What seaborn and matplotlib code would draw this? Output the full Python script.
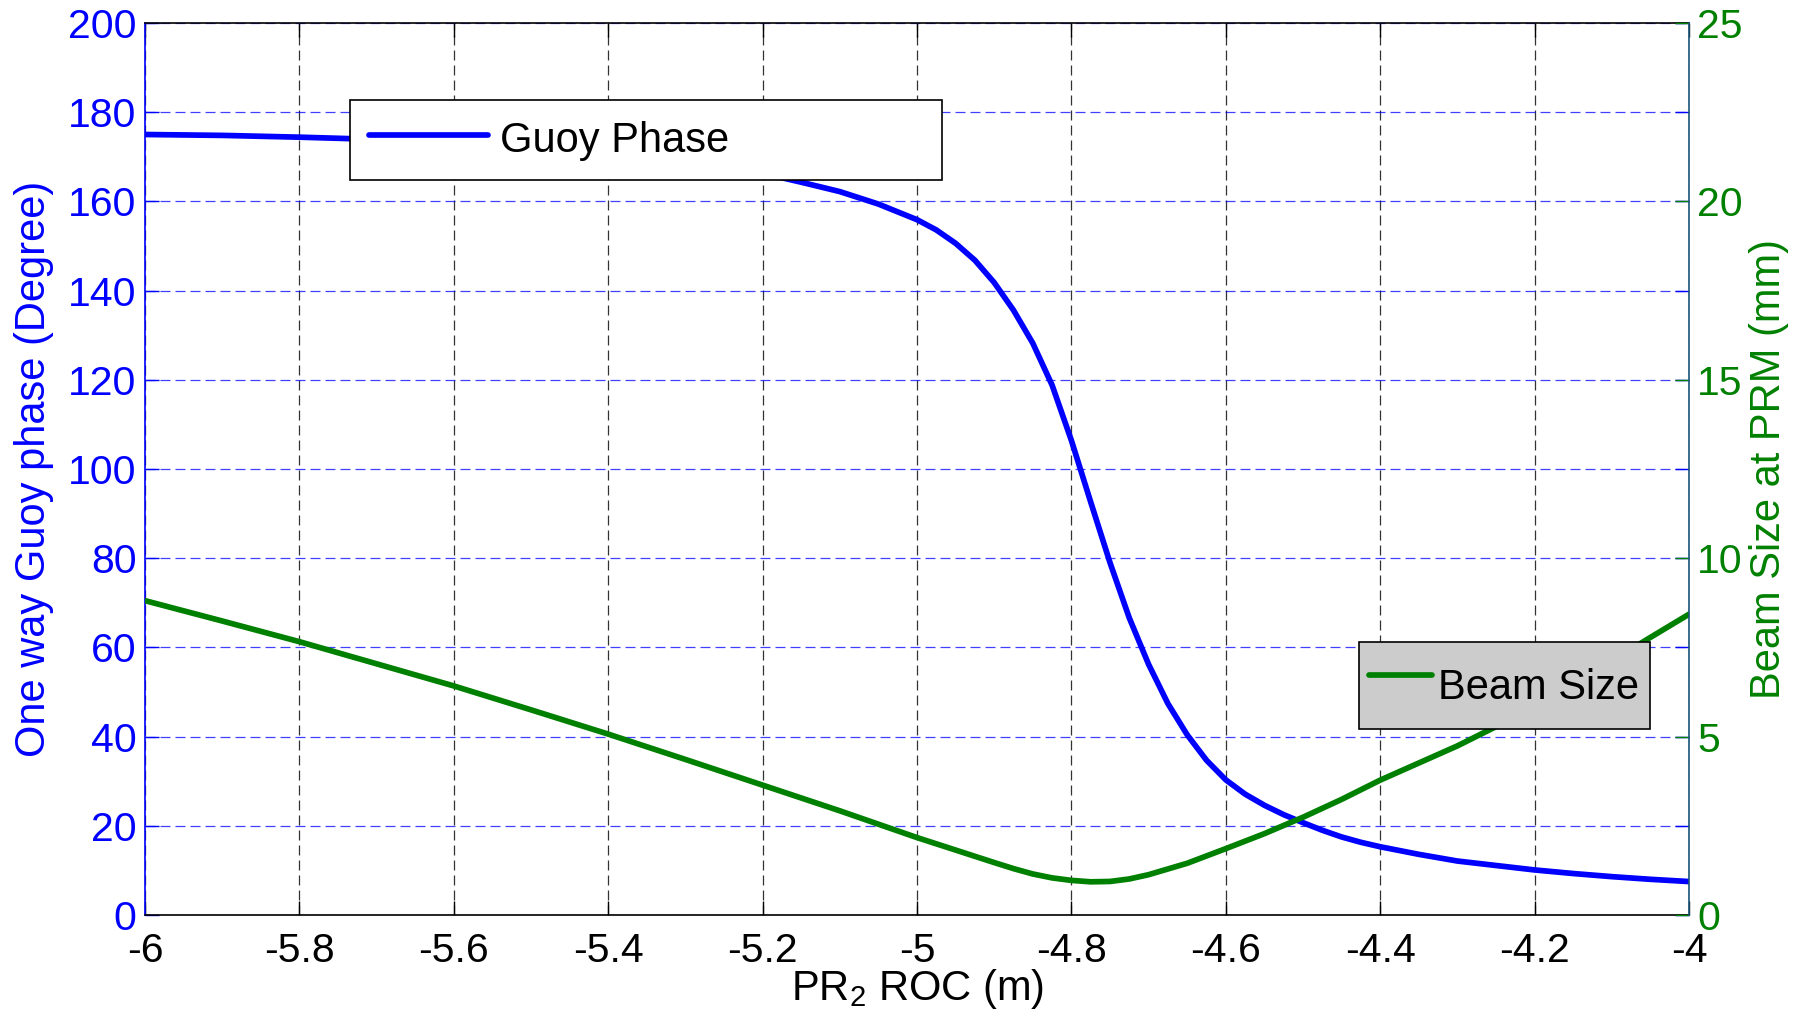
import matplotlib
matplotlib.use("Agg")
import matplotlib.pyplot as plt
import seaborn as sns
import pandas as pd

# ---------------- data ----------------
roc_phase = [-6.0, -5.9, -5.8, -5.7, -5.6, -5.5, -5.4, -5.3, -5.25, -5.2, -5.15, -5.1,
             -5.05, -5.0, -4.975, -4.95, -4.925, -4.9, -4.875, -4.85, -4.825, -4.8,
             -4.775, -4.75, -4.725, -4.7, -4.675, -4.65, -4.625, -4.6, -4.575, -4.55,
             -4.525, -4.5, -4.475, -4.45, -4.425, -4.4, -4.35, -4.3, -4.25, -4.2,
             -4.15, -4.1, -4.05, -4.0]
guoy_phase = [175.0, 174.8, 174.4, 173.9, 173.2, 172.3, 171.0, 169.3, 168.0, 166.3, 164.3, 162.2,
              159.4, 155.9, 153.6, 150.6, 146.8, 141.8, 135.6, 128.2, 118.8, 106.4,
              92.6, 79.0, 66.6, 56.2, 47.4, 40.4, 34.7, 30.3, 27.1, 24.6,
              22.5, 20.7, 19.0, 17.5, 16.3, 15.3, 13.6, 12.1, 11.1, 10.1,
              9.3, 8.6, 8.0, 7.5]

roc_beam = [-6.0, -5.9, -5.8, -5.7, -5.6, -5.5, -5.4, -5.3, -5.2, -5.1, -5.0, -4.95,
            -4.9, -4.875, -4.85, -4.825, -4.8, -4.775, -4.75, -4.725, -4.7, -4.65, -4.6,
            -4.55, -4.5, -4.45, -4.4, -4.35, -4.3, -4.25, -4.2, -4.15, -4.1, -4.05, -4.0]
beam_size = [8.81, 8.24, 7.66, 7.04, 6.42, 5.75, 5.07, 4.36, 3.64, 2.92, 2.17, 1.82,
             1.47, 1.30, 1.15, 1.04, 0.97, 0.93, 0.94, 1.01, 1.13, 1.45, 1.86,
             2.28, 2.74, 3.24, 3.78, 4.26, 4.74, 5.28, 5.90, 6.50, 7.12, 7.78, 8.43]

x_ticks = [-6.0, -5.8, -5.6, -5.4, -5.2, -5.0, -4.8, -4.6, -4.4, -4.2, -4.0]
x_tick_labels = ["-6", "-5.8", "-5.6", "-5.4", "-5.2", "-5", "-4.8", "-4.6", "-4.4", "-4.2", "-4"]
y_ticks = [0, 20, 40, 60, 80, 100, 120, 140, 160, 180, 200]
y2_ticks = [0, 5, 10, 15, 20, 25]

BLUE = "#0000ff"
GREEN = "#008000"

# ---------------- style ----------------
sns.set_theme(style="white")
plt.rcParams["font.family"] = ["Liberation Sans", "DejaVu Sans"]
plt.rcParams["mathtext.fontset"] = "custom"
plt.rcParams["mathtext.rm"] = "Liberation Sans"
plt.rcParams["mathtext.default"] = "regular"
plt.rcParams["lines.scale_dashes"] = False
plt.rcParams["text.color"] = "black"
plt.rcParams["axes.labelcolor"] = "black"
plt.rcParams["xtick.color"] = "black"
plt.rcParams["ytick.color"] = "black"

fig = plt.figure(figsize=(18.01, 10.15), dpi=100)
fig.subplots_adjust(left=145 / 1801, right=1689 / 1801, top=1 - 23 / 1015, bottom=1 - 915 / 1015)
ax = fig.add_subplot(111)

df_phase = pd.DataFrame({"roc": roc_phase, "phase": guoy_phase})
df_beam = pd.DataFrame({"roc": roc_beam, "beam": beam_size})

sns.lineplot(data=df_phase, x="roc", y="phase", ax=ax, color=BLUE, linewidth=4.1,
             legend=False, estimator=None, sort=False)
line_blue = ax.lines[-1]
line_blue.set_solid_joinstyle("round")

ax2 = ax.twinx()
sns.lineplot(data=df_beam, x="roc", y="beam", ax=ax2, color=GREEN, linewidth=4.1,
             legend=False, estimator=None, sort=False)
line_green = ax2.lines[-1]
line_green.set_solid_joinstyle("round")

ax.set_xlim(-6, -4)
ax.set_ylim(0, 200)
ax2.set_ylim(0, 25)
ax.set_xticks(x_ticks)
ax.set_xticklabels(x_tick_labels)
ax.set_yticks(y_ticks)
ax.set_yticklabels([str(v) for v in y_ticks])
ax2.set_yticks(y2_ticks)
ax2.set_yticklabels([str(v) for v in y2_ticks])

# grid
dash = (0, (7.2, 3.6))
ax.set_axisbelow(True)
ax.xaxis.grid(True, color="black", linestyle=dash, linewidth=0.9, alpha=0.8)
ax.yaxis.grid(True, color=BLUE, linestyle=dash, linewidth=0.9, alpha=0.75)
ax2.grid(False)

# ticks
ax.tick_params(axis="x", labelsize=29.5, colors="black", direction="in", length=10, width=1,
               top=True, bottom=True, pad=12)
ax.tick_params(axis="y", labelsize=29.5, colors=BLUE, direction="in", length=10, width=1,
               left=True, right=True, labelright=False, pad=6)
ax2.tick_params(axis="y", labelsize=29.5, colors=GREEN, direction="in", length=10, width=1,
                left=False, right=True, pad=6)

# spines
for s in ["top", "bottom"]:
    ax.spines[s].set_color("black")
    ax.spines[s].set_linewidth(1.2)
ax.spines["left"].set_color(BLUE)
ax.spines["left"].set_linewidth(1.2)
ax.spines["right"].set_visible(False)
for s in ["left", "top", "bottom"]:
    ax2.spines[s].set_visible(False)
ax2.spines["right"].set_color("#1b557a")
ax2.spines["right"].set_linewidth(1.2)

# labels
ax.set_xlabel("PR$_2$ ROC (m)", fontsize=30, color="black", labelpad=-2)
ax.set_ylabel("One way Guoy phase (Degree)", fontsize=30, color=BLUE, labelpad=10)
ax2.set_ylabel("Beam Size at PRM (mm)", fontsize=30, color=GREEN, labelpad=4)

# legends
leg1 = ax.legend(handles=[line_blue], labels=["Guoy Phase"], loc="upper left",
                 bbox_to_anchor=(0.133, 0.826, 0.383, 0.088), mode="expand",
                 fontsize=30, frameon=True, fancybox=False, shadow=False,
                 edgecolor="black", facecolor="white", framealpha=1,
                 borderpad=0.45, handlelength=2.85, handletextpad=0.3,
                 handleheight=1.05, borderaxespad=0)
leg1.get_frame().set_linewidth(1.2)
for t in leg1.get_texts():
    t.set_color("black")

leg2 = ax2.legend(handles=[line_green], labels=["Beam Size"], loc="upper left",
                  bbox_to_anchor=(0.786, 0.209, 0.189, 0.097), mode="expand",
                  fontsize=30, frameon=True, fancybox=False, shadow=False,
                  edgecolor="black", facecolor="#cccccc", framealpha=1,
                  borderpad=0.25, handlelength=1.5, handletextpad=0.15,
                  handleheight=2.05, borderaxespad=0)
leg2.get_frame().set_linewidth(1.2)
for t in leg2.get_texts():
    t.set_color("black")

fig.savefig("out.png", dpi=100)
